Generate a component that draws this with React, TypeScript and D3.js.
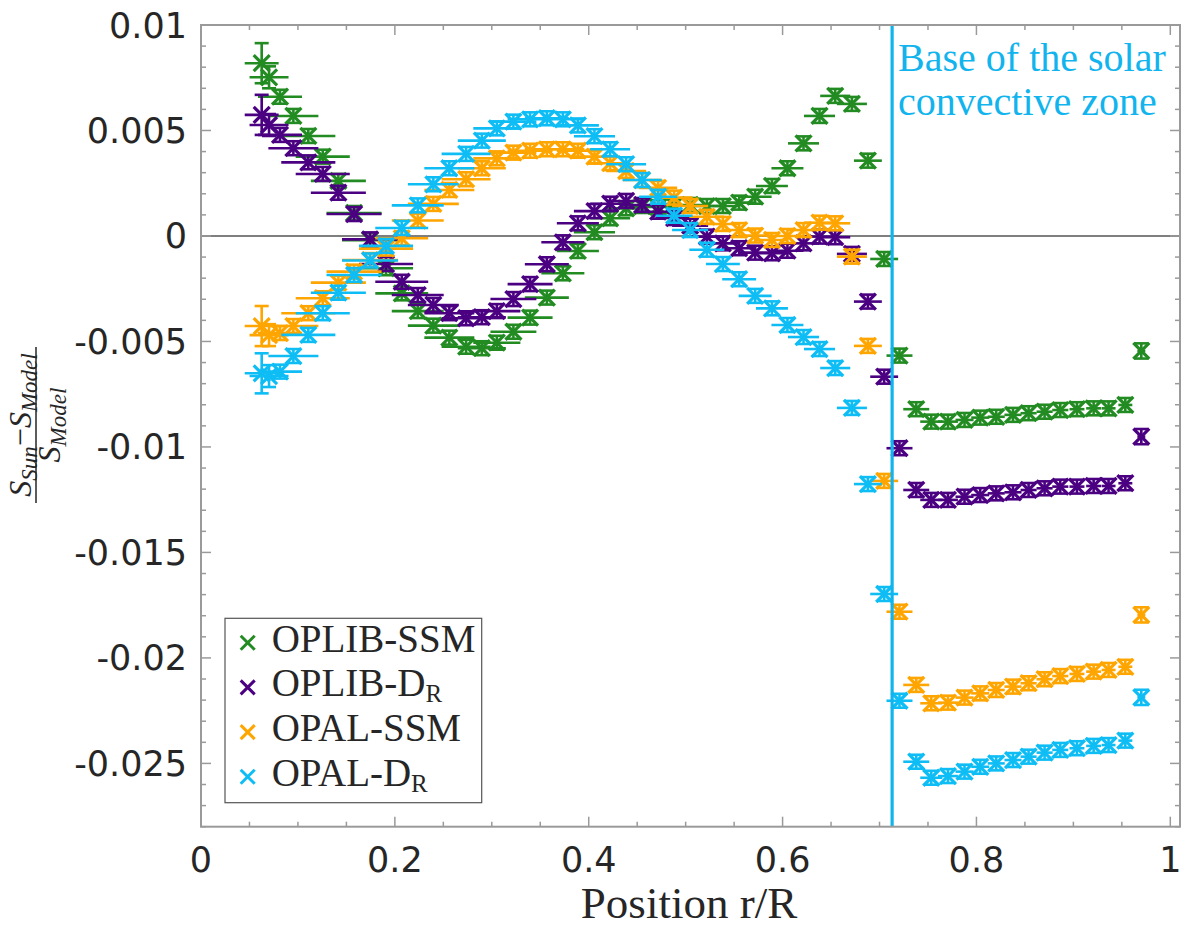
import React from "react";
import * as d3 from "d3";

// ---------- DATA ----------
const radius = [0.0626, 0.0702, 0.0815, 0.0953, 0.1107, 0.1256, 0.1417, 0.1579, 0.1744, 0.1909,
  0.2071, 0.2236, 0.2397, 0.2562, 0.2735, 0.2897, 0.3052, 0.3223, 0.3395, 0.3568,
  0.3733, 0.3888, 0.4059, 0.4221, 0.4386, 0.4551, 0.4716, 0.4881, 0.5046, 0.5219,
  0.5384, 0.5552, 0.5717, 0.5890, 0.6050, 0.6216, 0.6381, 0.6543, 0.6715, 0.6880,
  0.7048, 0.7206, 0.7379, 0.7534, 0.7706, 0.7877, 0.8039, 0.8204, 0.8377, 0.8538,
  0.8703, 0.8865, 0.9037, 0.9209, 0.9363, 0.9536, 0.9701];

const radiusErr = [0.0175, 0.0201, 0.0227, 0.0258, 0.0279, 0.0279, 0.0284, 0.0284, 0.0289, 0.0279,
  0.0273, 0.0268, 0.0263, 0.0258, 0.0253, 0.0248, 0.0243, 0.0237, 0.0232, 0.0227,
  0.0222, 0.0217, 0.0212, 0.0206, 0.0206, 0.0201, 0.0196, 0.0191, 0.0186, 0.0181,
  0.0175, 0.0175, 0.0170, 0.0165, 0.0165, 0.0160, 0.0160, 0.0155, 0.0155, 0.0144,
  0.0144, 0.0134, 0.0134, 0.0114, 0.0103, 0.0093, 0.0093, 0.0088, 0.0088, 0.0083,
  0.0083, 0.0083, 0.0077, 0.0077, 0.0072, 0.0072, 0.0041];

const valueErr = [0.00095, 0.00052, 0.00033, 0.00033, 0.00033, 0.00033, 0.00033, 0.00033, 0.00033, 0.00033,
  0.00033, 0.00033, 0.00033, 0.00033, 0.00033, 0.00033, 0.00033, 0.00033, 0.00033, 0.00033,
  0.00033, 0.00033, 0.00033, 0.00033, 0.00033, 0.00033, 0.00033, 0.00033, 0.00033, 0.00033,
  0.00033, 0.00033, 0.00033, 0.00033, 0.00033, 0.00033, 0.00033, 0.00033, 0.00033, 0.00033,
  0.00033, 0.00033, 0.00033, 0.00033, 0.00033, 0.00033, 0.00033, 0.00033, 0.00033, 0.00033,
  0.00033, 0.00033, 0.00033, 0.00033, 0.00033, 0.00033, 0.00036];

const oplibSSM = [0.00819, 0.00752, 0.0066, 0.00569, 0.00474, 0.00376, 0.00261, 0.00109, -0.0002, -0.00153,
  -0.00272, -0.00356, -0.00425, -0.00482, -0.00525, -0.00532, -0.00506, -0.00454, -0.00387, -0.00292,
  -0.00177, -0.00071, 0.00018, 0.00084, 0.00131, 0.00142, 0.00137, 0.00145, 0.00147, 0.00142,
  0.00142, 0.00158, 0.00186, 0.00237, 0.00321, 0.00439, 0.00569, 0.00664, 0.00626, 0.00357,
  -0.00109, -0.00567, -0.00821, -0.0088, -0.0088, -0.00872, -0.00861, -0.00857, -0.00848, -0.0084,
  -0.00833, -0.00825, -0.00821, -0.00817, -0.00817, -0.00801, -0.00545];

const oplibDR = [0.00574, 0.00526, 0.00479, 0.00416, 0.00349, 0.00294, 0.00205, 0.00104, -0.00016, -0.00133,
  -0.00217, -0.0028, -0.00327, -0.00366, -0.0039, -0.00385, -0.00356, -0.00299, -0.00228, -0.00134,
  -0.0003, 0.0006, 0.00118, 0.00153, 0.00166, 0.00147, 0.00115, 0.00085, 0.00049, -0.00003,
  -0.00035, -0.00058, -0.00079, -0.00082, -0.0007, -0.00035, -0.00003, -0.00006, -0.00085, -0.00311,
  -0.00667, -0.01006, -0.01204, -0.01251, -0.01251, -0.01236, -0.01228, -0.0122, -0.01215, -0.01204,
  -0.01196, -0.01188, -0.01188, -0.01185, -0.01185, -0.01172, -0.00951];

const opalSSM = [-0.00427, -0.0047, -0.0046, -0.00427, -0.00366, -0.00295, -0.00221, -0.00169, -0.00114, -0.0006,
  -0.00011, 0.00073, 0.00152, 0.00218, 0.00269, 0.00321, 0.00368, 0.00395, 0.00404, 0.00411,
  0.00411, 0.00404, 0.00376, 0.00345, 0.00308, 0.00265, 0.00228, 0.00182, 0.00142, 0.00091,
  0.00057, 0.00028, 0.00002, -0.00019, 0.0, 0.00028, 0.00063, 0.0006, -0.00098, -0.00521,
  -0.01161, -0.01781, -0.02128, -0.02215, -0.02212, -0.02188, -0.02168, -0.02152, -0.02136, -0.0212,
  -0.02101, -0.02086, -0.02076, -0.02065, -0.02057, -0.02042, -0.01796];

const opalDR = [-0.00651, -0.00664, -0.00643, -0.00569, -0.00469, -0.00366, -0.00269, -0.00185, -0.00116, -0.00047,
  0.00038, 0.00145, 0.00245, 0.00321, 0.00389, 0.00452, 0.0051, 0.00542, 0.00553, 0.00558,
  0.00553, 0.00524, 0.00473, 0.00411, 0.0034, 0.00265, 0.00186, 0.00096, 0.00028, -0.00065,
  -0.00133, -0.00205, -0.00284, -0.00343, -0.00422, -0.00479, -0.00536, -0.00626, -0.00815, -0.01176,
  -0.01697, -0.02203, -0.02492, -0.02568, -0.0256, -0.02539, -0.02516, -0.025, -0.02484, -0.02468,
  -0.02449, -0.02436, -0.02428, -0.02417, -0.02413, -0.02392, -0.02187];

const seriesNames = ["OPLIB-SSM", "OPLIB-D", "OPAL-SSM", "OPAL-D"];
const seriesSubs = ["", "R", "", "R"];
const seriesColors = ["#228B22", "#4B0082", "#FFA500", "#0FBDF5"];
const seriesValues = [oplibSSM, oplibDR, opalSSM, opalDR];

const xTicksMajor = [0, 0.2, 0.4, 0.6, 0.8, 1];
const xTickLabels = ["0", "0.2", "0.4", "0.6", "0.8", "1"];
const yTicksMajor = [0.01, 0.005, 0, -0.005, -0.01, -0.015, -0.02, -0.025];
const yTickLabels = ["0.01", "0.005", "0", "-0.005", "-0.01", "-0.015", "-0.02", "-0.025"];
const xDomain = [0, 1.01];
const yDomain = [-0.028, 0.01];
const convectionBase = 0.713;
const annotationLines = ["Base of the solar", "convective zone"];

// ---------- LAYOUT ----------
const W = 1200, H = 932;
const L = 201, R = 1180, T = 25, B = 826.7;
const axisColor = "#9a9a9a";
const textColor = "#262626";
const lineBlue = "#12B4EE";
const serif = "'Liberation Serif', 'DejaVu Serif', serif";
const sans = "'DejaVu Sans', sans-serif";

export default function App() {
  const x = d3.scaleLinear().domain(xDomain).range([L, R]);
  const y = d3.scaleLinear().domain(yDomain).range([B, T]);

  const xMinor = d3.range(0, 1.0001, 0.05);
  const yMinor = d3.range(-28, 10.5, 1).map((v) => v / 1000);

  const arm = 8;
  const cap = 7;

  return (
    <svg width={W} height={H} style={{ position: "absolute", left: 0, top: 0, background: "#fff" }}>
      <rect x={0} y={0} width={W} height={H} fill="#fff" />
      {/* zero line */}
      <line x1={L} x2={R} y1={y(0)} y2={y(0)} stroke="#555" strokeWidth={1.4} />

      {/* data */}
      {seriesValues.map((vals, si) => (
        <g key={si} stroke={seriesColors[si]} fill="none" strokeWidth={2.6}>
          {vals.map((v, i) => {
            const cx = x(radius[i]);
            const cy = y(v);
            const y1 = y(v + valueErr[i]);
            const y2 = y(v - valueErr[i]);
            return (
              <g key={i}>
                <line x1={x(radius[i] - radiusErr[i])} x2={x(radius[i] + radiusErr[i])} y1={cy} y2={cy} />
                <line x1={cx} x2={cx} y1={y1} y2={y2} />
                <line x1={cx - cap} x2={cx + cap} y1={y1} y2={y1} />
                <line x1={cx - cap} x2={cx + cap} y1={y2} y2={y2} />
                <line x1={cx - arm} x2={cx + arm} y1={cy - arm} y2={cy + arm} strokeWidth={3.2} />
                <line x1={cx - arm} x2={cx + arm} y1={cy + arm} y2={cy - arm} strokeWidth={3.2} />
              </g>
            );
          })}
        </g>
      ))}

      {/* vertical line: base of convective zone */}
      <line x1={x(convectionBase)} x2={x(convectionBase)} y1={T} y2={B} stroke={lineBlue} strokeWidth={3.2} />
      {annotationLines.map((t, i) => (
        <text key={i} x={x(convectionBase) + 6} y={71 + i * 44} fill={lineBlue} fontFamily={serif} fontSize={40}>
          {t}
        </text>
      ))}

      {/* axes box */}
      <rect x={L} y={T} width={R - L} height={B - T} fill="none" stroke={axisColor} strokeWidth={2} />
      {/* ticks */}
      {xMinor.map((t, i) => {
        const major = xTicksMajor.some((m) => Math.abs(m - t) < 1e-6);
        const len = major ? 10 : 5;
        return (
          <g key={"xt" + i} stroke={axisColor} strokeWidth={1.5}>
            <line x1={x(t)} x2={x(t)} y1={B} y2={B - len} />
            <line x1={x(t)} x2={x(t)} y1={T} y2={T + len} />
          </g>
        );
      })}
      {yMinor.map((t, i) => {
        const major = yTicksMajor.some((m) => Math.abs(m - t) < 1e-6);
        const len = major ? 10 : 5;
        return (
          <g key={"yt" + i} stroke={axisColor} strokeWidth={1.5}>
            <line x1={L} x2={L + len} y1={y(t)} y2={y(t)} />
            <line x1={R} x2={R - len} y1={y(t)} y2={y(t)} />
          </g>
        );
      })}
      {xTicksMajor.map((t, i) => (
        <text key={"xl" + i} x={x(t)} y={872} textAnchor="middle" fontFamily={sans} fontSize={35} fill={textColor}>
          {xTickLabels[i]}
        </text>
      ))}
      {yTicksMajor.map((t, i) => (
        <text key={"yl" + i} x={187} y={y(t) + 12.5} textAnchor="end" fontFamily={sans} fontSize={35} fill={textColor}>
          {yTickLabels[i]}
        </text>
      ))}

      {/* x label */}
      <text x={689} y={918} textAnchor="middle" fontFamily={serif} fontSize={45} fill={textColor}>
        Position r/R
      </text>

      {/* y label (fraction) */}
      <g transform="translate(40,425) rotate(-90)" fill={textColor} fontFamily={serif} fontStyle="italic">
        <text x={0} y={-9} textAnchor="middle" fontSize={32}>
          S<tspan fontSize={23} dy={6}>Sun</tspan>
          <tspan fontSize={32} fontStyle="normal" dy={-6}>−</tspan>
          S<tspan fontSize={23} dy={6}>Model</tspan>
        </text>
        <line x1={-78} x2={78} y1={-4} y2={-4} stroke={textColor} strokeWidth={1.5} />
        <text x={0} y={20} textAnchor="middle" fontSize={32}>
          S<tspan fontSize={23} dy={6}>Model</tspan>
        </text>
      </g>

      {/* legend */}
      <rect x={225} y={618.3} width={256.7} height={184.4} fill="#fff" stroke="#555" strokeWidth={1.2} />
      {seriesNames.map((n, i) => {
        const cy = 642.7 + i * 44.7;
        const cx = 247.7;
        return (
          <g key={"lg" + i}>
            <g stroke={seriesColors[i]} strokeWidth={3}>
              <line x1={cx - 7} x2={cx + 7} y1={cy - 7} y2={cy + 7} />
              <line x1={cx - 7} x2={cx + 7} y1={cy + 7} y2={cy - 7} />
            </g>
            <text x={271.7} y={cy + 9} fontFamily={serif} fontSize={39} fill={textColor}>
              {n}
              {seriesSubs[i] ? (
                <tspan fontSize={25} dy={6}>{seriesSubs[i]}</tspan>
              ) : null}
            </text>
          </g>
        );
      })}
    </svg>
  );
}
